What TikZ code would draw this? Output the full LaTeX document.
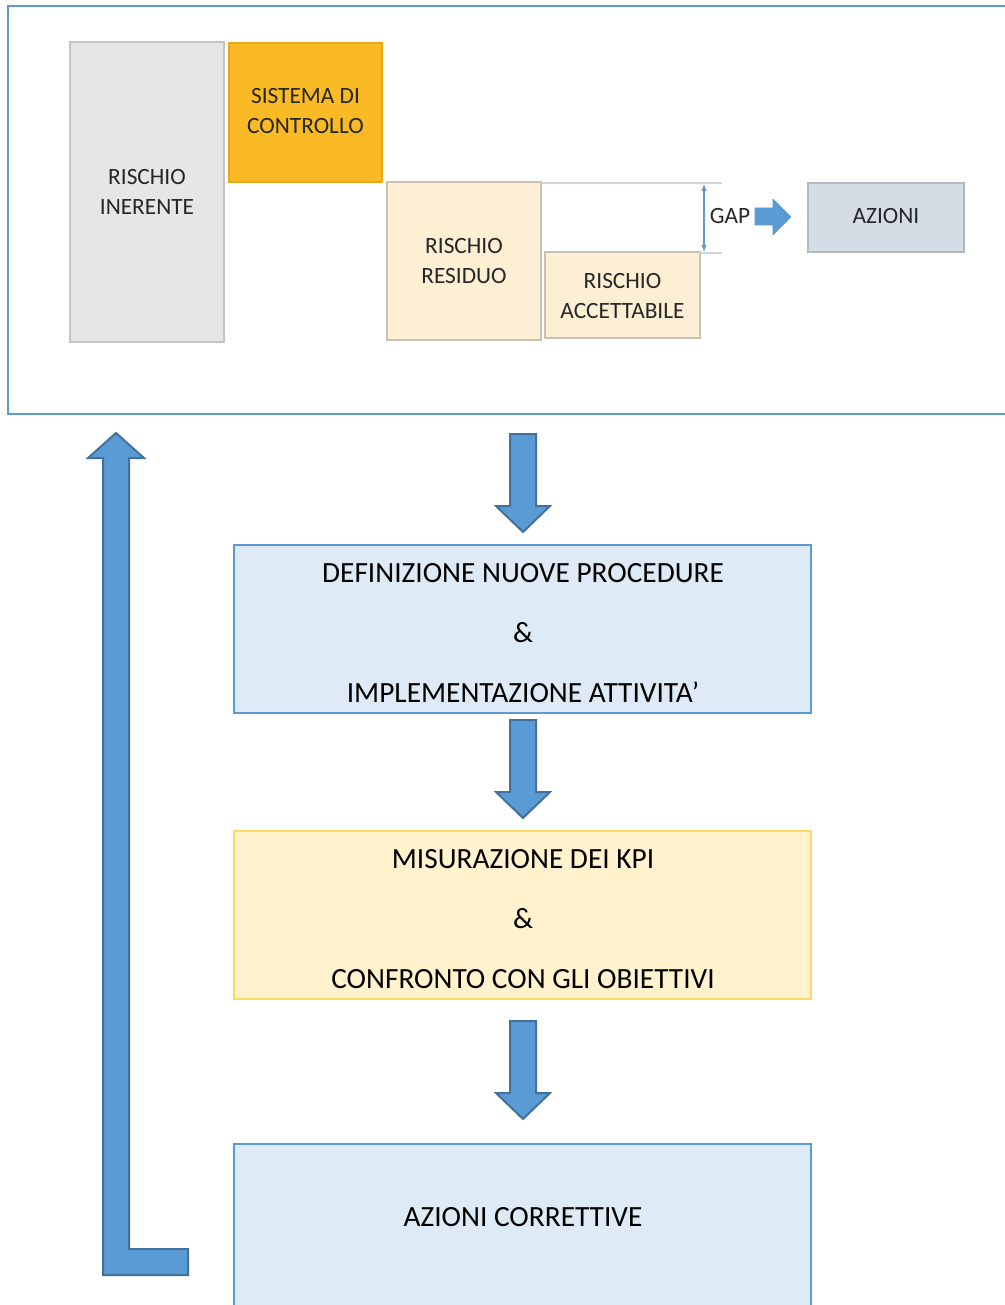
\documentclass[tikz,border=0pt]{standalone}
\usepackage{fontspec}
\setmainfont{Carlito}
\usepackage{tikz}

\begin{document}
\begin{tikzpicture}[x=0.75pt,y=0.75pt,yscale=-1,xscale=1]
\useasboundingbox (0,0) rectangle (1005,1305);

%Shape: Rectangle [id:frame] 
\draw  [draw={rgb, 255:red, 91; green, 155; blue, 213 } ,line width=1.2] (8,6) -- (1012,6) -- (1012,414) -- (8,414) -- cycle ;

%Shape: Rectangle [id:inerente] 
\draw  [draw={rgb, 255:red, 196; green, 196; blue, 196 } ,fill={rgb, 255:red, 231; green, 230; blue, 230 } ,line width=1] (70,42) -- (224,42) -- (224,342) -- (70,342) -- cycle ;
\node (inerente) [align=center,inner sep=0,text={rgb, 255:red, 38; green, 38; blue, 38 },font=\fontsize{17.5}{22.5}\selectfont] at (147,192) {RISCHIO\\INERENTE};
%Shape: Rectangle [id:sistema] 
\draw  [draw={rgb, 255:red, 232; green, 168; blue, 30 } ,fill={rgb, 255:red, 249; green, 186; blue, 38 } ,line width=1] (229,43) -- (382,43) -- (382,182) -- (229,182) -- cycle ;
\node (sistema) [align=center,inner sep=0,text={rgb, 255:red, 38; green, 38; blue, 38 },font=\fontsize{17.5}{22.5}\selectfont] at (305.5,111) {SISTEMA DI\\CONTROLLO};
%Shape: Rectangle [id:residuo] 
\draw  [draw={rgb, 255:red, 200; green, 194; blue, 180 } ,fill={rgb, 255:red, 253; green, 239; blue, 212 } ,line width=1] (387,182) -- (541,182) -- (541,340) -- (387,340) -- cycle ;
\node (residuo) [align=center,inner sep=0,text={rgb, 255:red, 38; green, 38; blue, 38 },font=\fontsize{17.5}{22.5}\selectfont] at (464,261) {RISCHIO\\RESIDUO};
%Shape: Rectangle [id:accettabile] 
\draw  [draw={rgb, 255:red, 200; green, 194; blue, 180 } ,fill={rgb, 255:red, 253; green, 239; blue, 212 } ,line width=1] (545,252) -- (700,252) -- (700,338) -- (545,338) -- cycle ;
\node (accettabile) [align=center,inner sep=0,text={rgb, 255:red, 38; green, 38; blue, 38 },font=\fontsize{17.5}{22.5}\selectfont] at (622.5,296) {RISCHIO\\ACCETTABILE};

%Straight Lines [id:gaplines] 
\draw  [color={rgb, 255:red, 210; green, 214; blue, 220 }  ,line width=0.8]  (541,183) -- (722,183) ;
\draw  [color={rgb, 255:red, 210; green, 214; blue, 220 }  ,line width=0.8]  (700,253) -- (722,253) ;
\coordinate (gapT) at (704,184) ;
\coordinate (gapB) at (704,252) ;
\draw  [color={rgb, 255:red, 100; green, 150; blue, 200 }  ,line width=0.8, <->, >=latex]  (gapT) -- (gapB) ;
\node (gap) [inner sep=0,text={rgb, 255:red, 38; green, 38; blue, 38 },font=\fontsize{17.5}{22.5}\selectfont] at (730,216) {GAP};
%Shape: Right Arrow [id:gaparrow] 
\draw  [draw={rgb, 255:red, 91; green, 155; blue, 213 } ,fill={rgb, 255:red, 91; green, 155; blue, 213 } ,line join=round] (755,208) -- (773,208) -- (773,199) -- (791,217) -- (773,235) -- (773,225) -- (755,225) -- cycle ;
%Shape: Rectangle [id:azioni] 
\draw  [draw={rgb, 255:red, 180; green, 184; blue, 192 } ,fill={rgb, 255:red, 214; green, 220; blue, 229 } ,line width=1] (808,183) -- (964,183) -- (964,252) -- (808,252) -- cycle ;
\node (azioni) [inner sep=0,text={rgb, 255:red, 38; green, 38; blue, 38 },font=\fontsize{17.5}{22.5}\selectfont] at (886,216) {AZIONI};

%Shape: Down Arrow [id:down1] 
\draw  [draw={rgb, 255:red, 65; green, 113; blue, 156 } ,fill={rgb, 255:red, 91; green, 155; blue, 213 } ,line width=1.5] (510,434) -- (536,434) -- (536,506) -- (550,506) -- (523,532) -- (496,506) -- (510,506) -- cycle ;
%Shape: Down Arrow [id:down2] 
\draw  [draw={rgb, 255:red, 65; green, 113; blue, 156 } ,fill={rgb, 255:red, 91; green, 155; blue, 213 } ,line width=1.5] (510,720) -- (536,720) -- (536,792) -- (550,792) -- (523,818) -- (496,792) -- (510,792) -- cycle ;
%Shape: Down Arrow [id:down3] 
\draw  [draw={rgb, 255:red, 65; green, 113; blue, 156 } ,fill={rgb, 255:red, 91; green, 155; blue, 213 } ,line width=1.5] (510,1021) -- (536,1021) -- (536,1093) -- (550,1093) -- (523,1119) -- (496,1093) -- (510,1093) -- cycle ;

%Shape: Bent Up Arrow [id:loop] 
\draw  [draw={rgb, 255:red, 65; green, 113; blue, 156 } ,fill={rgb, 255:red, 91; green, 155; blue, 213 } ,line width=1.5] (116,433) -- (144,458) -- (129,458) -- (129,1249) -- (188,1249) -- (188,1275) -- (103,1275) -- (103,458) -- (88,458) -- cycle ;

%Shape: Rectangle [id:definizione] 
\draw  [draw={rgb, 255:red, 91; green, 155; blue, 213 } ,fill={rgb, 255:red, 222; green, 235; blue, 247 } ,line width=1.2] (234,545) -- (811,545) -- (811,713) -- (234,713) -- cycle ;
\node (definizione) [align=center,inner sep=0,font=\fontsize{22}{45}\selectfont] at (523,633) {DEFINIZIONE NUOVE PROCEDURE\\\&\\IMPLEMENTAZIONE ATTIVITA’};
%Shape: Rectangle [id:misurazione] 
\draw  [draw={rgb, 255:red, 255; green, 217; blue, 102 } ,fill={rgb, 255:red, 255; green, 242; blue, 204 } ,line width=1.2] (234,831) -- (811,831) -- (811,999) -- (234,999) -- cycle ;
\node (misurazione) [align=center,inner sep=0,font=\fontsize{22}{45}\selectfont] at (523,919) {MISURAZIONE DEI KPI\\\&\\CONFRONTO CON GLI OBIETTIVI};
%Shape: Rectangle [id:correttive] 
\draw  [draw={rgb, 255:red, 91; green, 155; blue, 213 } ,fill={rgb, 255:red, 222; green, 235; blue, 247 } ,line width=1.2] (234,1144) -- (811,1144) -- (811,1320) -- (234,1320) -- cycle ;
\node (correttive) [inner sep=0,font=\fontsize{22}{45}\selectfont] at (523,1217) {AZIONI CORRETTIVE};

\end{tikzpicture}
\end{document}
